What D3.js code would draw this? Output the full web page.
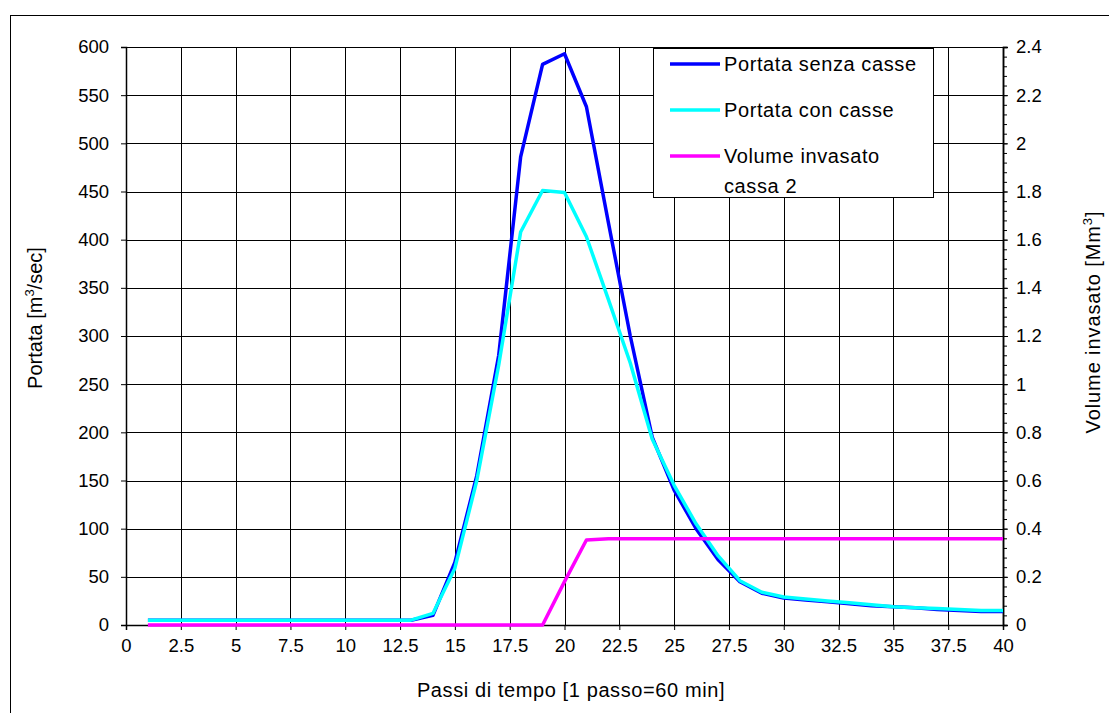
<!DOCTYPE html>
<html>
<head>
<meta charset="utf-8">
<script src="https://cdn.jsdelivr.net/npm/d3@7"></script>
<style>
  body { margin:0; background:#fff; }
  text { font-family: "Liberation Sans", Arial, sans-serif; fill:#000; }
</style>
</head>
<body>
<svg id="chart" width="1109" height="713"></svg>
<script>
// time steps (1 passo = 60 min)
var passi = d3.range(1, 41);

// Portata senza casse [m3/sec]
var portataSenza = [5,5,5,5,5,5,5,5,5,5,5,5,5,10,65,155,280,486,582,593,
                    538,418,300,195,140,100,68,45,33,28,26,24,22,20,19,18,16,15,14,14];
// Portata con casse [m3/sec]
var portataCon = [5,5,5,5,5,5,5,5,5,5,5,5,5,12,59,150,270,408,451,449,
                  403,338,272,193,145,105,72,46,34,29,27,25,23,21,19,18,17,16,15,15];
// Volume invasato cassa 2 [Mm3]
var volume = [0,0,0,0,0,0,0,0,0,0,0,0,0,0,0,0,0,0,0,0.18,
              0.353,0.358,0.358,0.358,0.358,0.358,0.358,0.358,0.358,0.358,
              0.358,0.358,0.358,0.358,0.358,0.358,0.358,0.358,0.358,0.358];

var xTicks = d3.range(0, 40.01, 2.5);
var yTicks = d3.range(0, 601, 50);
var y2Ticks = d3.range(0, 2.41, 0.2);
var y2Minor = d3.range(0, 2.401, 0.04);

var series = [
  {name:"Portata senza casse", values:portataSenza, color:"#0000ff", axis:"left"},
  {name:"Portata con casse", values:portataCon, color:"#00ffff", axis:"left"},
  {name:"Volume invasato<br/>cassa 2", values:volume, color:"#ff00ff", axis:"right"}
];

var svg = d3.select("#chart");
var margin = {left:126, top:47, right:106, bottom:88};
var width = 1109 - margin.left - margin.right;   // 877
var height = 713 - margin.top - margin.bottom;   // 578

//outer chart frame (only left and top visible in the picture)
svg.append("rect")
  .attr("x", 10.5).attr("y", 15.5)
  .attr("width", 1120).attr("height", 720)
  .attr("fill", "none").attr("stroke", "#000").attr("stroke-width", 1);

var g = svg.append("g").attr("transform", "translate(" + margin.left + "," + margin.top + ")");

var x = d3.scaleLinear().domain([0, 40]).range([0, width]);
var y = d3.scaleLinear().domain([0, 600]).range([height, 0]);
var y2 = d3.scaleLinear().domain([0, 2.4]).range([height, 0]);

//grid
g.append("g").selectAll("line").data(xTicks).join("line")
  .attr("x1", d => Math.round(x(d)) + 0.5).attr("x2", d => Math.round(x(d)) + 0.5)
  .attr("y1", 0).attr("y2", height)
  .attr("stroke", "#000").attr("stroke-width", 1);
g.append("g").selectAll("line").data(yTicks).join("line")
  .attr("y1", d => Math.round(y(d)) + 0.5).attr("y2", d => Math.round(y(d)) + 0.5)
  .attr("x1", 0).attr("x2", width)
  .attr("stroke", "#000").attr("stroke-width", 1);

//axes
var fontSize = "18.5px";
var xAxis = g.append("g").attr("transform", "translate(0," + height + ")")
  .call(d3.axisBottom(x).tickValues(xTicks).tickSize(5).tickPadding(9).tickFormat(d3.format("")));
var yAxis = g.append("g")
  .call(d3.axisLeft(y).tickValues(yTicks).tickSize(5).tickPadding(12));
var y2AxisMinor = g.append("g").attr("transform", "translate(" + width + ",0)")
  .call(d3.axisRight(y2).tickValues(y2Minor).tickSize(4).tickFormat(""));
var y2Axis = g.append("g").attr("transform", "translate(" + width + ",0)")
  .call(d3.axisRight(y2).tickValues(y2Ticks).tickSize(5).tickPadding(8).tickFormat(d3.format("")));

[xAxis, yAxis, y2Axis, y2AxisMinor].forEach(function (a) {
  a.selectAll("text").style("font-size", fontSize).style("font-family", '"Liberation Sans", Arial, sans-serif');
  a.selectAll("line,path").attr("stroke", "#000");
  a.select(".domain").attr("stroke-width", 1.5);
});

//lines
series.forEach(function (s) {
  var sc = s.axis == "right" ? y2 : y;
  var line = d3.line().x((d, i) => x(passi[i])).y(d => sc(d));
  g.append("path")
    .datum(s.values)
    .attr("d", line)
    .attr("fill", "none")
    .attr("stroke", s.color)
    .attr("stroke-width", 3.5)
    .attr("stroke-linejoin", "round");
});

//axis titles
svg.append("text")
  .attr("x", 571).attr("y", 697)
  .attr("text-anchor", "middle")
  .style("font-size", "20px")
  .style("letter-spacing", "0.6px")
  .text("Passi di tempo [1 passo=60 min]");

var lt = svg.append("text")
  .attr("transform", "translate(42,318) rotate(-90)")
  .attr("text-anchor", "middle")
  .style("font-size", "20px");
lt.append("tspan").text("Portata [m");
lt.append("tspan").attr("dy", -8).style("font-size", "13px").text("3");
lt.append("tspan").attr("dy", 8).text("/sec]");

var rt = svg.append("text")
  .attr("transform", "translate(1100,322) rotate(-90)")
  .attr("text-anchor", "middle")
  .style("font-size", "20px")
  .style("letter-spacing", "0.9px");
rt.append("tspan").text("Volume invasato  [Mm");
rt.append("tspan").attr("dy", -8).style("font-size", "13px").text("3");
rt.append("tspan").attr("dy", 8).text("]");

//legend
var legend = svg.append("g").attr("transform", "translate(653,48)");
legend.append("rect")
  .attr("x", 0.5).attr("y", 0.5)
  .attr("width", 280).attr("height", 149)
  .attr("fill", "#fff").attr("stroke", "#000").attr("stroke-width", 1);
series.forEach(function (s, i) {
  var ly = 16 + i * 46;
  legend.append("line")
    .attr("x1", 17).attr("x2", 67).attr("y1", ly).attr("y2", ly)
    .attr("stroke", s.color).attr("stroke-width", 3.5);
  var lines = s.name.split("<br/>");
  lines.forEach(function (t, j) {
    legend.append("text")
      .attr("x", 71).attr("y", ly + 7 + j * 30)
      .style("font-size", "20px")
      .style("letter-spacing", "0.6px")
      .text(t);
  });
});
</script>
</body>
</html>
